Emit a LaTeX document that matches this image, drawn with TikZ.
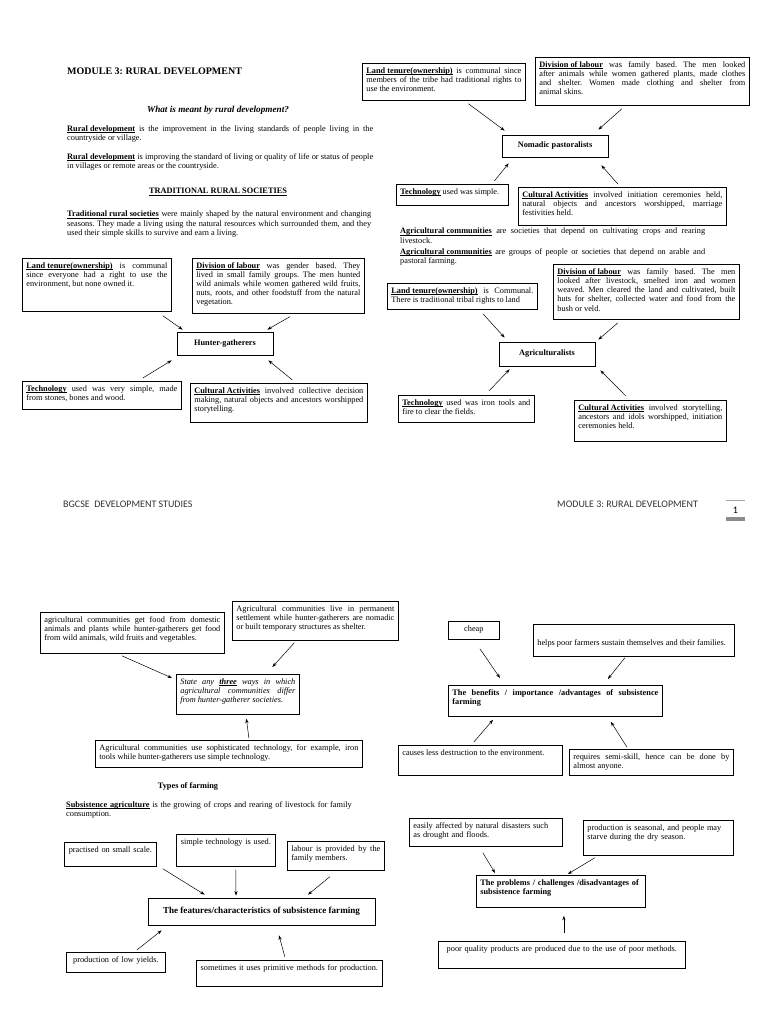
\documentclass[tikz,border=0pt]{standalone}
\usepackage{fontspec}
\setmainfont{Liberation Serif}
\newfontfamily\footerfont{Carlito}
\usetikzlibrary{arrows.meta}
\frenchspacing

\newcommand{\boxfont}{\fontsize{8.3}{9.2}\selectfont}
\newcommand{\keyterm}[1]{\textbf{\underline{\smash{#1}}}}
\newcommand{\padbelow}[1]{\rule[-#1pt]{0pt}{#1pt}}
\newcommand{\padabove}[1]{\rule{0pt}{#1pt}}

\begin{document}
\begin{tikzpicture}[x=1pt, y=-1pt,
  body/.style={anchor=north west, inner sep=0pt, text width=#1, align=justify, font=\fontsize{8.3}{9.3}\selectfont},
  infobox/.style={draw, line width=0.75pt, anchor=north west, inner xsep=4pt, inner ysep=4pt, text width=#1, align=justify, font=\boxfont},
  hub/.style={draw, line width=0.75pt, inner sep=2pt, font=\boxfont\bfseries},
  heading/.style={inner sep=0pt, font=\fontsize{8.3}{9.3}\selectfont\bfseries},
  footer/.style={inner sep=0pt, anchor=west, text=black!80, font=\footerfont\fontsize{10}{12}\selectfont},
  arr/.style={-{Stealth[length=4.5pt, width=3.2pt]}, line width=0.5pt}
]
\useasboundingbox (0,0) rectangle (768,1024);
\fill[white] (0,0) rectangle (768,1024);

% page 1, left column
\node[anchor=west, inner sep=0pt, font=\fontsize{10}{12}\selectfont\bfseries] (title) at (67,71) {MODULE 3: RURAL DEVELOPMENT};
\node[heading, font=\fontsize{9.2}{11}\selectfont\bfseries\itshape] (question) at (218,110) {What is meant by rural development?};
\node[body=306pt] (rdDef1) at (67,125) {\keyterm{Rural development} is the improvement in the living standards of people living in the\linebreak countryside or village.};
\node[body=306pt] (rdDef2) at (67,153) {\keyterm{Rural development} is improving the standard of living or quality of life or status of people\linebreak in villages or remote areas or the countryside.};
\node[heading] (tradHead) at (218,195) {\underline{\smash{TRADITIONAL RURAL SOCIETIES}}};
\node[body=304pt] (tradDef) at (67,211) {\keyterm{Traditional rural societies} were mainly shaped by the natural environment and changing\linebreak seasons. They made a living using the natural resources which surrounded them, and they\linebreak used their simple skills to survive and earn a living.};

% hunter-gatherers
\node[infobox=141pt] (hgLand) at (22,258) {\keyterm{Land tenure(ownership)} is communal\linebreak since everyone had a right to use the\linebreak environment, but none owned it.\padbelow{20.8}};
\node[infobox=164pt] (hgDiv) at (192,258) {\keyterm{Division of labour} was gender based. They\linebreak lived in small family groups. The men hunted\linebreak wild animals while women gathered wild fruits,\linebreak nuts, roots, and other foodstuff from the natural\linebreak vegetation.\padbelow{4.4}};
\node[hub, minimum width=96pt, minimum height=23pt] (hg) at (225,343.5) {Hunter-gatherers};
\node[infobox=151pt] (hgTech) at (22,381) {\keyterm{Technology} used was very simple, made\linebreak from stones, bones and wood.\padbelow{5}};
\node[infobox=169pt] (hgCult) at (190,383) {\keyterm{Cultural Activities} involved collective decision\linebreak making, natural objects and ancestors worshipped\linebreak storytelling.\padbelow{6.8}};
\draw[arr] ([shift={(-9,4)}]hgLand.south east) -- ([shift={(6,-2)}]hg.north west);
\draw[arr] ([shift={(11.5,3)}]hgDiv.south) -- ([shift={(-6,-2)}]hg.north east);
\draw[arr] ([shift={(41,-3)}]hgTech.north) -- ([shift={(-5,5)}]hg.south west);
\draw[arr] ([shift={(13.5,-3)}]hgCult.north) -- ([shift={(-5,5)}]hg.south east);

% nomadic pastoralists
\node[infobox=155pt] (npLand) at (362,63) {\keyterm{Land tenure(ownership)} is communal since\linebreak members of the tribe had traditional rights to\linebreak use the environment.\padbelow{4.8}};
\node[infobox=206pt] (npDiv) at (535,57) {\keyterm{Division of labour} was family based. The men looked\linebreak after animals while women gathered plants, made clothes\linebreak and shelter. Women made clothing and shelter from\linebreak animal skins.\padbelow{6.6}};
\node[hub, minimum width=106pt, minimum height=22pt] (np) at (555,146) {Nomadic pastoralists};
\node[infobox=104pt] (npTech) at (396,184) {\keyterm{Technology} used was simple.\padbelow{7.2}};
\node[infobox=200pt] (npCult) at (518,187) {\keyterm{Cultural Activities} involved initiation ceremonies held,\linebreak natural objects and ancestors worshipped, marriage\linebreak festivities held.\padbelow{5.8}};
\draw[arr] ([shift={(24.5,3)}]npLand.south) -- ([shift={(3,-4)}]np.north west);
\draw[arr] ([shift={(-20.5,3)}]npDiv.south) -- ([shift={(-10,-5)}]np.north east);
\draw[arr] ([shift={(42,-3)}]npTech.north) -- ([shift={(7,6)}]np.south west);
\draw[arr] ([shift={(-4.5,-3)}]npCult.north) -- ([shift={(-7,8)}]np.south east);

\node[body=305pt] (agrDef1) at (400,228) {\keyterm{Agricultural communities} are societies that depend on cultivating crops and rearing\linebreak livestock.};
\node[body=305pt] (agrDef2) at (400,248) {\keyterm{Agricultural communities} are groups of people or societies that depend on arable and\linebreak pastoral farming.};

% agriculturalists
\node[infobox=142pt] (agLand) at (387,283) {\keyterm{Land tenure(ownership)} is Communal.\linebreak There is traditional tribal rights to land\padbelow{3}};
\node[infobox=178pt] (agDiv) at (553,264) {\keyterm{Division of labour} was family based. The men\linebreak looked after livestock, smelted iron and women\linebreak weaved. Men cleared the land and cultivated, built\linebreak huts for shelter, collected water and food from the\linebreak bush or veld.\padbelow{4.4}};
\node[hub, minimum width=96pt, minimum height=24pt] (ag) at (547,354) {Agriculturalists};
\node[infobox=128pt] (agTech) at (398,395) {\keyterm{Technology} used was iron tools and\linebreak fire to clear the fields.\padbelow{4}};
\node[infobox=144pt] (agCult) at (574,400) {\keyterm{Cultural Activities} involved storytelling,\linebreak ancestors and idols worshipped, initiation\linebreak ceremonies held.\padbelow{8.8}};
\draw[arr] ([shift={(20.5,4)}]agLand.south) -- ([shift={(6,-4)}]ag.north west);
\draw[arr] ([shift={(-28.5,3)}]agDiv.south) -- ([shift={(3,-2)}]ag.north east);
\draw[arr] ([shift={(22.5,-4)}]agTech.north) -- ([shift={(11,3)}]ag.south west);
\draw[arr] ([shift={(-24.5,-4)}]agCult.north) -- ([shift={(5,4)}]ag.south east);

% footer
\node[footer] (footLeft) at (63,504) {BGCSE\ \ DEVELOPMENT STUDIES};
\node[footer] (footRight) at (557,504) {MODULE 3: RURAL DEVELOPMENT};
\draw[black!35, line width=0.6pt] (726,500) -- (745,500);
\fill[black!45] (726,517) rectangle (745,521);
\node[footer, anchor=center, text=black] (pageNo) at (735.5,510) {1};

% page 2, comparison
\node[infobox=176pt] (cmpFood) at (40,612) {agricultural communities get food from domestic\linebreak animals and plants while hunter-gatherers get food\linebreak from wild animals, wild fruits and vegetables.\padbelow{8.8}};
\node[infobox=158pt] (cmpHome) at (232,601) {Agricultural communities live in permanent\linebreak settlement while hunter-gatherers are nomadic\linebreak or built temporary structures as shelter.\padbelow{6.8}};
\node[infobox=115pt, font=\boxfont\itshape] (cmpQ) at (176,674) {State any \textbf{\underline{\smash{three}}} ways in which\linebreak agricultural communities differ\linebreak from hunter-gatherer societies.\padbelow{7.8}};
\node[infobox=259pt] (cmpTech) at (95,740) {Agricultural communities use sophisticated technology, for example, iron\linebreak tools while hunter-gatherers use simple technology.\padbelow{4}};
\draw[arr] ([shift={(-10.5,2)}]cmpFood.south) -- ([shift={(-4,4)}]cmpQ.north west);
\draw[arr] ([shift={(-21,2)}]cmpHome.south) -- ([shift={(34.5,-7)}]cmpQ.north);
\draw[arr] ([shift={(20,-2)}]cmpTech.north) -- ([shift={(8.5,4)}]cmpQ.south);

\node[heading] (types) at (188,786) {Types of farming};
\node[body=300pt, align=left] (subDef) at (66,801) {\keyterm{Subsistence agriculture} is the growing of crops and rearing of livestock for family\\consumption.};

% features
\node[infobox=84pt, align=center] (ftScale) at (64,842) {practised on small scale.\padbelow{10.2}};
\node[infobox=91pt, align=center] (ftTech) at (176,834) {simple technology is used.\padbelow{18.2}};
\node[infobox=89pt] (ftLabour) at (287,841) {labour is provided by the\linebreak family members.\padbelow{6}};
\node[hub, minimum width=227pt, minimum height=27pt, font=\fontsize{9.1}{11}\selectfont\bfseries] (ft) at (261.5,911.5) {The features/characteristics of subsistence farming};
\node[infobox=91pt, align=center] (ftYield) at (66,952) {production of low yields.\padbelow{6.2}};
\node[infobox=178pt, align=center] (ftPrim) at (196,960) {sometimes it uses primitive methods for production.\padbelow{12.2}};
\draw[arr] ([shift={(6,2)}]ftScale.south east) -- ([shift={(57,-3)}]ft.north west);
\draw[arr] ([shift={(10,3)}]ftTech.south) -- ([shift={(-25.5,-2)}]ft.north);
\draw[arr] ([shift={(-6,6)}]ftLabour.south) -- ([shift={(46.5,-3)}]ft.north);
\draw[arr] ([shift={(21,-2)}]ftYield.north) -- ([shift={(14,5)}]ft.south west);
\draw[arr] ([shift={(-4.5,-3)}]ftPrim.north) -- ([shift={(17.5,10)}]ft.south);

% benefits
\node[infobox=43pt, align=center] (bnCheap) at (448,621) {cheap\padbelow{4.2}};
\node[infobox=193pt] (bnHelps) at (533,624) {\padabove{17}helps poor farmers sustain themselves and their families.\padbelow{7}};
\node[infobox=206pt, font=\boxfont\bfseries] (bn) at (448,685) {The benefits / importance /advantages of subsistence\linebreak farming\padbelow{8}};
\node[infobox=156pt] (bnEnv) at (398,745) {causes less destruction to the environment.\padbelow{16.2}};
\node[infobox=156pt] (bnSkill) at (569,749) {requires semi-skill, hence can be done by\linebreak almost anyone.\padbelow{3}};
\draw[arr] ([shift={(6,9)}]bnCheap.south) -- ([shift={(52,-7)}]bn.north west);
\draw[arr] ([shift={(-9,1)}]bnHelps.south) -- ([shift={(52.5,-6)}]bn.north);
\draw[arr] ([shift={(-6.5,-3)}]bnEnv.north) -- ([shift={(45,3)}]bn.south west);
\draw[arr] ([shift={(-24.5,-2)}]bnSkill.north) -- ([shift={(55.5,5)}]bn.south);

% problems
\node[infobox=145pt, align=left] (prDisaster) at (409,818) {easily affected by natural disasters such\\as drought and floods.\padbelow{5}};
\node[infobox=142pt, align=left] (prSeason) at (583,820) {production is seasonal, and people may\\starve during the dry season.\padbelow{12}};
\node[infobox=161pt, align=left, font=\boxfont\bfseries] (pr) at (476,875) {The problems / challenges /disadvantages of\\subsistence farming\padbelow{9}};
\node[infobox=239pt, align=center] (prQuality) at (438,941) {poor quality products are produced due to the use of poor methods.\padbelow{13.2}};
\draw[arr] ([shift={(-3,6)}]prDisaster.south) -- ([shift={(19,-2)}]pr.north west);
\draw[arr] ([shift={(-63.5,2)}]prSeason.south) -- ([shift={(7,-1)}]pr.north);
\draw[arr] ([shift={(2,-8)}]prQuality.north) -- ([shift={(3,8)}]pr.south);
\end{tikzpicture}
\end{document}
